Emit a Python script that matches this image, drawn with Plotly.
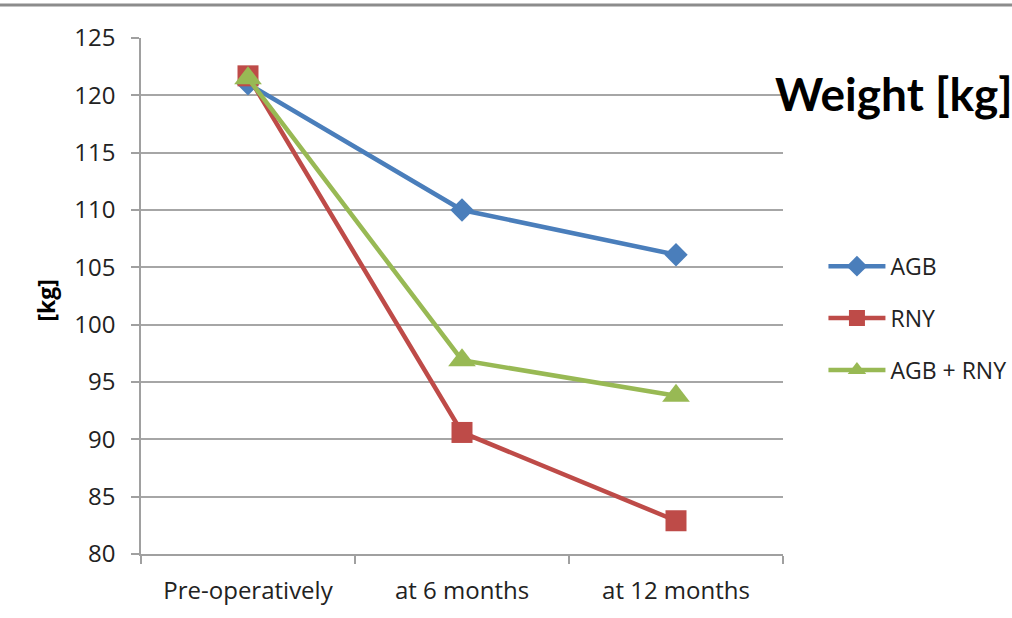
import plotly.graph_objects as go

categories = ["Pre-operatively", "at 6 months", "at 12 months"]
agb = [121.0, 110.0, 106.1]
rny = [121.7, 90.6, 82.9]
agb_rny = [121.5, 96.9, 93.8]
y_ticks = [80, 85, 90, 95, 100, 105, 110, 115, 120, 125]

FONT = "Open Sans"
series = [
    ("AGB", agb, "#4A7EBB", "diamond", 18),
    ("RNY", rny, "#BE4B48", "square", 21),
    ("AGB + RNY", agb_rny, "#98B954", "triangle-up", 24),
]

fig = go.Figure()
for i, (name, vals, col, sym, sz) in enumerate(series):
    fig.add_trace(go.Scatter(
        x=categories, y=vals, name=name, mode="lines+markers",
        line=dict(color=col, width=4.5),
        marker=dict(symbol=sym, size=sz, color=col),
        legendgroup=name,
    ))

fig.update_layout(
    width=1012, height=618,
    margin=dict(l=141, r=229, t=38, b=64, autoexpand=False),
    paper_bgcolor="white", plot_bgcolor="white",
    font=dict(family=FONT, size=24, color="#222222"),
    showlegend=True,
    legend=dict(
        x=1.063, xanchor="left", y=0.457, yanchor="middle",
        itemwidth=57, traceorder="grouped", tracegroupgap=19,
        font=dict(size=23, color="#222222"),
        bgcolor="rgba(0,0,0,0)",
    ),
    title=dict(
        text="<b>Weight [kg]</b>", x=0.9875, xref="paper", xanchor="left",
        y=0.8895, yref="paper", yanchor="middle",
        font=dict(family="Lato", size=46, color="black"),
    ),
)
fig.update_xaxes(
    type="category", range=[-0.5, 2.5], showline=True, linecolor="#A0A0A0",
    linewidth=1.5, ticks="outside", tickson="boundaries", ticklen=8,
    tickcolor="#A0A0A0", tickwidth=1.5, showgrid=False, ticklabelstandoff=14,
    automargin=False,
)
fig.update_yaxes(
    range=[80, 125], tickvals=y_ticks, showline=True, linecolor="#A0A0A0",
    linewidth=1.5, ticks="outside", ticklen=8, tickcolor="#A0A0A0",
    tickwidth=1.5, showgrid=True, gridcolor="#A6A6A6", gridwidth=1.5,
    zeroline=False, ticklabelstandoff=11, automargin=False,
)
fig.add_annotation(
    text="<b>[kg]</b>", textangle=-90, xref="paper", yref="paper",
    x=-0.148, y=0.493, xanchor="center", yanchor="middle", showarrow=False,
    font=dict(family=FONT, size=23, color="black"),
)
fig.add_shape(
    type="line", xref="paper", yref="paper", x0=-0.3, x1=1.5,
    y0=(618 - 5 - 64) / 516, y1=(618 - 5 - 64) / 516,
    line=dict(color="#8C8C8C", width=3),
)
fig.write_html(
    "out.html",
    config={"displayModeBar": False},
    post_script="document.body.style.margin='0';",
)
